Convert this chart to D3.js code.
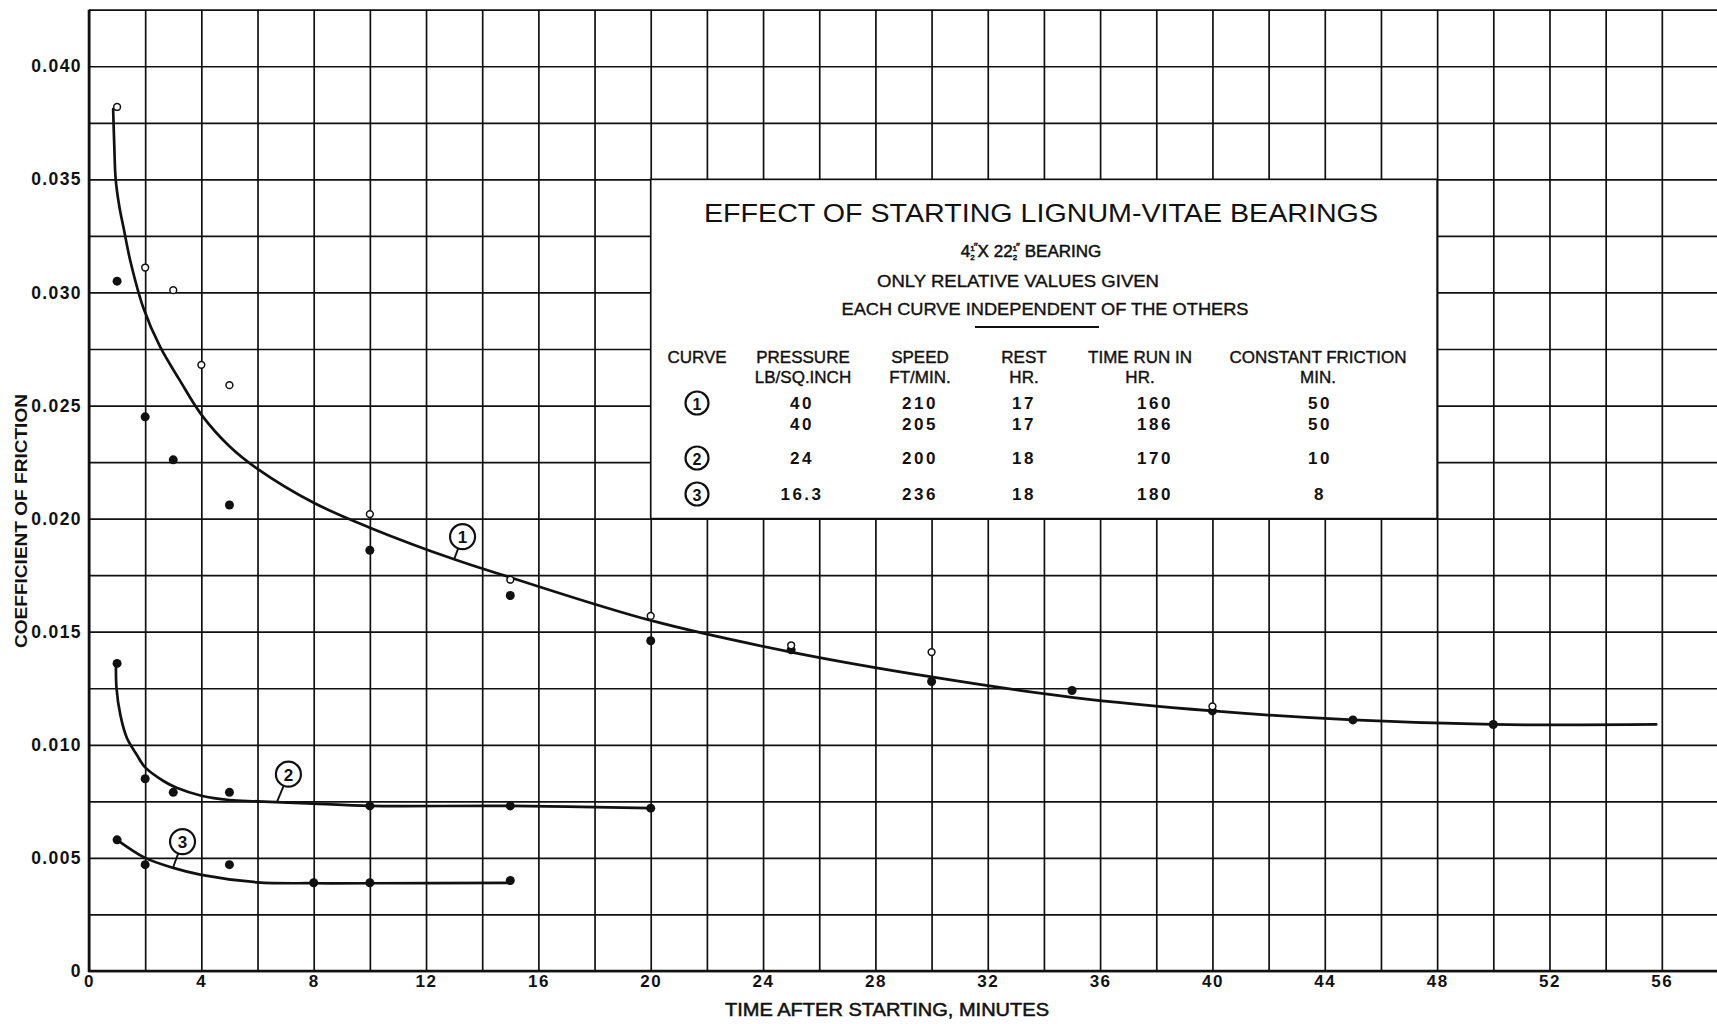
<!DOCTYPE html>
<html>
<head>
<meta charset="utf-8">
<script src="https://cdn.jsdelivr.net/npm/d3@7"></script>
<style>
  html, body { margin: 0; padding: 0; background: #fff; }
  svg { display: block; }
  text { font-family: "Liberation Sans", Arial, sans-serif; fill: #111; }
</style>
</head>
<body>
<svg id="chart" width="1717" height="1024"></svg>
<script>
// ---- axis ticks ----
const xTickValues = [0, 4, 8, 12, 16, 20, 24, 28, 32, 36, 40, 44, 48, 52, 56];
const yTickValues = [0, 0.005, 0.010, 0.015, 0.020, 0.025, 0.030, 0.035, 0.040];
const yTickLabels = ["0", "0.005", "0.010", "0.015", "0.020", "0.025", "0.030", "0.035", "0.040"];

// ---- curve 1: two runs (open circles, filled dots) and faired curve ----
const c1OpenTime     = [1, 2, 3, 4, 5, 10, 15, 20, 25, 30, 40];
const c1OpenFriction = [0.0382, 0.0311, 0.0301, 0.0268, 0.0259, 0.0202, 0.0173, 0.0157, 0.0144, 0.0141, 0.0117];
const c1DotTime      = [1, 2, 3, 5, 10, 15, 20, 25, 30, 35, 40, 45, 50];
const c1DotFriction  = [0.0305, 0.0245, 0.0226, 0.0206, 0.0186, 0.0166, 0.0146, 0.0142, 0.0128, 0.0124, 0.0115, 0.0111, 0.0109];
const c1FitTime      = [0.86, 0.9, 0.95, 1.08, 1.24, 1.47, 1.94, 2.53, 3.24, 4, 5, 6, 8, 10, 13, 15, 20, 25, 30, 35, 40, 45, 50, 55.8];
const c1FitFriction  = [0.0381, 0.0365, 0.0350, 0.0338, 0.0328, 0.0314, 0.0293, 0.0276, 0.0261, 0.0246, 0.0232, 0.0222, 0.0207, 0.0196, 0.0182, 0.0174, 0.0155, 0.0141, 0.0130, 0.0121, 0.0115, 0.0111, 0.0109, 0.0109];

// ---- curve 2 ----
const c2DotTime      = [1, 2, 3, 5, 10, 15, 20];
const c2DotFriction  = [0.0136, 0.0085, 0.0079, 0.0079, 0.0073, 0.0073, 0.0072];
const c2FitTime      = [0.96, 0.98, 1.12, 1.35, 1.7, 2, 2.65, 3.12, 4, 5, 6, 8, 10, 15, 20];
const c2FitFriction  = [0.0136, 0.0125, 0.0113, 0.0103, 0.00956, 0.0090, 0.0084, 0.0081, 0.00775, 0.00756, 0.0075, 0.0074, 0.0073, 0.0073, 0.0072];

// ---- curve 3 ----
const c3DotTime      = [1, 2, 5, 8, 10, 15];
const c3DotFriction  = [0.0058, 0.0047, 0.0047, 0.0039, 0.0039, 0.0040];
const c3FitTime      = [1, 2, 3, 4, 6, 8, 10, 15];
const c3FitFriction  = [0.0058, 0.0050, 0.00456, 0.00425, 0.00392, 0.00388, 0.00388, 0.0039];

// ---- curve labels (circled numbers) and their leader targets ----
const labelNames    = ["1", "2", "3"];
const labelTime     = [13.3, 7.1, 3.33];
const labelFriction = [0.0192, 0.0087, 0.00572];
const leaderTime    = [13.0, 6.7, 3.0];
const leaderFriction= [0.0182, 0.0075, 0.0046];

// ---- legend table ----
const tableTitle    = "EFFECT OF STARTING LIGNUM-VITAE BEARINGS";
const tableNotes    = ["ONLY RELATIVE VALUES GIVEN", "EACH CURVE INDEPENDENT OF THE OTHERS"];
const headTop       = ["CURVE", "PRESSURE", "SPEED", "REST", "TIME RUN IN", "CONSTANT FRICTION"];
const headBottom    = ["", "LB/SQ.INCH", "FT/MIN.", "HR.", "HR.", "MIN."];
const rowCurve      = ["1", "", "2", "3"];
const rowPressure   = ["40", "40", "24", "16.3"];
const rowSpeed      = ["210", "205", "200", "236"];
const rowRest       = ["17", "17", "18", "18"];
const rowTimeRun    = ["160", "186", "170", "180"];
const rowConstant   = ["50", "50", "10", "8"];

const xTitle = "TIME AFTER STARTING, MINUTES";
const yTitle = "COEFFICIENT OF FRICTION";

// ================= drawing =================
const W = 1717, H = 1024;
const svg = d3.select("#chart");
svg.append("rect").attr("width", W).attr("height", H).attr("fill", "#fff");

const x = d3.scaleLinear().domain([0, 58]).range([89, 1718]);
const y = d3.scaleLinear().domain([0, 0.0425]).range([971, 9.7]);
const ink = "#111";

// thicken lettering slightly, like pen-drawn text
function pen(sel, w) {
  return sel.attr("stroke", ink).attr("stroke-width", w).attr("paint-order", "stroke");
}

// grid: every 2 minutes, every 0.0025
const gridX = d3.range(0, 59, 2);
const gridY = d3.range(0, 18).map(i => +(i * 0.0025).toFixed(4));

const gv = svg.append("g").attr("transform", `translate(0,${y(0)})`)
  .call(d3.axisBottom(x).tickValues(gridX).tickSize(-(y(0) - y(0.0425))).tickFormat(""));
gv.select(".domain").remove();
gv.selectAll(".tick line").attr("stroke", ink).attr("stroke-width", 1.7);

const gh = svg.append("g").attr("transform", `translate(${x(0)},0)`)
  .call(d3.axisLeft(y).tickValues(gridY).tickSize(-(x(58) - x(0))).tickFormat(""));
gh.select(".domain").remove();
gh.selectAll(".tick line").attr("stroke", ink).attr("stroke-width", 1.7);

// heavier frame on the two axes
svg.append("line").attr("x1", x(0)).attr("x2", x(0)).attr("y1", y(0) + 1).attr("y2", y(0.0425))
  .attr("stroke", ink).attr("stroke-width", 2.6);
svg.append("line").attr("x1", x(0) - 1).attr("x2", W).attr("y1", y(0)).attr("y2", y(0))
  .attr("stroke", ink).attr("stroke-width", 2.6);

// tick labels
const ax = svg.append("g").attr("transform", `translate(0,${y(0)})`)
  .call(d3.axisBottom(x).tickValues(xTickValues).tickSize(0).tickPadding(4).tickFormat(d3.format("d")));
ax.select(".domain").remove();
ax.selectAll("text").attr("font-size", 17).attr("font-weight", "bold").attr("fill", ink)
  .attr("font-family", "Liberation Sans, Arial, sans-serif").attr("letter-spacing", 1.5);

const ay = svg.append("g").attr("transform", `translate(${x(0)},0)`)
  .call(d3.axisLeft(y).tickValues(yTickValues).tickSize(0).tickPadding(7).tickFormat((d, i) => yTickLabels[i]));
ay.select(".domain").remove();
ay.selectAll("text").attr("font-size", 17.5).attr("font-weight", "bold").attr("fill", ink)
  .attr("font-family", "Liberation Sans, Arial, sans-serif").attr("letter-spacing", 1.4);

// axis titles
pen(svg.append("text").attr("x", 887).attr("y", 1010).attr("text-anchor", "middle")
  .attr("dominant-baseline", "central").attr("font-size", 17.5)
  .attr("textLength", 324).attr("lengthAdjust", "spacingAndGlyphs").text(xTitle), 0.5);
svg.append("text").attr("transform", "translate(21,521) rotate(-90)").attr("text-anchor", "middle")
  .attr("dominant-baseline", "central").attr("font-size", 16).attr("font-weight", "bold")
  .attr("textLength", 254).attr("lengthAdjust", "spacingAndGlyphs").text(yTitle);

// ---- legend box (sits on the 20/48 min and 0.020/0.035 grid lines) ----
svg.append("rect")
  .attr("x", x(20)).attr("y", y(0.035))
  .attr("width", x(48) - x(20)).attr("height", y(0.020) - y(0.035))
  .attr("fill", "#fff").attr("stroke", ink).attr("stroke-width", 1.7);

const tb = svg.append("g");
tb.append("text").attr("x", 1041).attr("y", 213).attr("text-anchor", "middle")
  .attr("dominant-baseline", "central").attr("font-size", 25)
  .attr("textLength", 674).attr("lengthAdjust", "spacingAndGlyphs").text(tableTitle);

// bearing size line, with stacked 1/2 fractions and inch marks
const bearing = pen(tb.append("text").attr("x", 1031).attr("y", 257).attr("text-anchor", "middle")
  .attr("font-size", 17), 0.5);
function fraction(t) {
  t.append("tspan").attr("font-size", 8).attr("dy", -6).text("1");
  t.append("tspan").attr("font-size", 8).attr("dx", -4.4).attr("dy", 9).text("2");
  t.append("tspan").attr("font-size", 11).attr("dx", -1).attr("dy", -9).text("″");
}
bearing.append("tspan").text("4");
fraction(bearing);
bearing.append("tspan").attr("dy", 6).text("X 22");
fraction(bearing);
bearing.append("tspan").attr("dy", 6).text(" BEARING");

const noteX = [1018, 1045], noteY = [281, 309], noteLen = [282, 407];
tableNotes.forEach((t, i) => {
  pen(tb.append("text").attr("x", noteX[i]).attr("y", noteY[i]).attr("text-anchor", "middle")
    .attr("dominant-baseline", "central").attr("font-size", 16)
    .attr("textLength", noteLen[i]).attr("lengthAdjust", "spacingAndGlyphs").text(t), 0.35);
});
tb.append("line").attr("x1", 975).attr("x2", 1099).attr("y1", 327).attr("y2", 327)
  .attr("stroke", ink).attr("stroke-width", 2);

const colHeadX = [697, 803, 920, 1024, 1140, 1318];
const colValX  = [697, 802, 920, 1024, 1155, 1320];
const headY = [357, 377];
const rowY = [403, 424, 458, 494];

headTop.forEach((t, i) => {
  pen(tb.append("text").attr("x", colHeadX[i]).attr("y", headY[0]).attr("text-anchor", "middle")
    .attr("dominant-baseline", "central").attr("font-size", 17).text(t), 0.4);
});
headBottom.forEach((t, i) => {
  pen(tb.append("text").attr("x", colHeadX[i]).attr("y", headY[1]).attr("text-anchor", "middle")
    .attr("dominant-baseline", "central").attr("font-size", 17).text(t), 0.4);
});
[rowPressure, rowSpeed, rowRest, rowTimeRun, rowConstant].forEach((col, c) => {
  col.forEach((t, r) => {
    tb.append("text").attr("x", colValX[c + 1]).attr("y", rowY[r]).attr("text-anchor", "middle")
      .attr("dominant-baseline", "central").attr("font-size", 17).attr("font-weight", "bold")
      .attr("letter-spacing", 2.5).text(t);
  });
});
rowCurve.forEach((t, r) => {
  if (!t) return;
  tb.append("circle").attr("cx", colValX[0]).attr("cy", rowY[r]).attr("r", 11.5)
    .attr("fill", "#fff").attr("stroke", ink).attr("stroke-width", 2.2);
  tb.append("text").attr("x", colValX[0]).attr("y", rowY[r] + 1).attr("text-anchor", "middle")
    .attr("dominant-baseline", "central").attr("font-size", 16).attr("font-weight", "bold").text(t);
});

// ---- curves ----
const line = d3.line().x(d => x(d[0])).y(d => y(d[1])).curve(d3.curveCatmullRom.alpha(0.5));
[[c1FitTime, c1FitFriction], [c2FitTime, c2FitFriction], [c3FitTime, c3FitFriction]].forEach(([t, f]) => {
  svg.append("path").datum(d3.zip(t, f)).attr("d", line)
    .attr("fill", "none").attr("stroke", ink).attr("stroke-width", 2.7)
    .attr("stroke-linecap", "round").attr("stroke-linejoin", "round");
});

// ---- observations ----
const dots = [].concat(
  d3.zip(c1DotTime, c1DotFriction),
  d3.zip(c2DotTime, c2DotFriction),
  d3.zip(c3DotTime, c3DotFriction)
);
svg.append("g").selectAll("circle").data(dots).join("circle")
  .attr("cx", d => x(d[0])).attr("cy", d => y(d[1])).attr("r", 4.5).attr("fill", ink);

svg.append("g").selectAll("circle").data(d3.zip(c1OpenTime, c1OpenFriction)).join("circle")
  .attr("cx", d => x(d[0])).attr("cy", d => y(d[1])).attr("r", 3.4)
  .attr("fill", "#fff").attr("stroke", ink).attr("stroke-width", 1.5);

// ---- circled curve numbers with leaders ----
labelNames.forEach((n, i) => {
  const cx = x(labelTime[i]), cy = y(labelFriction[i]);
  const ex = x(leaderTime[i]), ey = y(leaderFriction[i]);
  const r = 12.5;
  const ang = Math.atan2(ey - cy, ex - cx);
  svg.append("line")
    .attr("x1", cx + r * Math.cos(ang)).attr("y1", cy + r * Math.sin(ang))
    .attr("x2", ex).attr("y2", ey)
    .attr("stroke", ink).attr("stroke-width", 1.9);
  svg.append("circle").attr("cx", cx).attr("cy", cy).attr("r", r)
    .attr("fill", "#fff").attr("stroke", ink).attr("stroke-width", 2.2);
  svg.append("text").attr("x", cx).attr("y", cy + 1).attr("text-anchor", "middle")
    .attr("dominant-baseline", "central").attr("font-size", 17).attr("font-weight", "bold").text(n);
});
</script>
</body>
</html>
